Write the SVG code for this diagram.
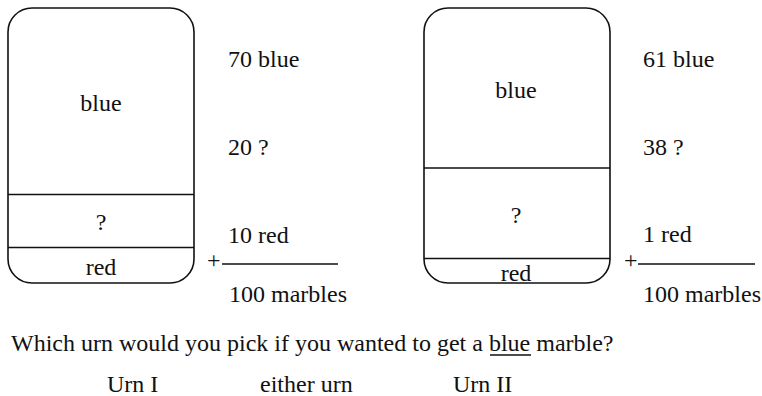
<svg xmlns="http://www.w3.org/2000/svg" width="762" height="396" viewBox="0 0 762 396">
<style>
text{font-family:"Liberation Serif","Times New Roman","DejaVu Serif",serif;font-size:24px;fill:#111}
.m{text-anchor:middle}
.s{fill:none;stroke:#111;stroke-width:1.6}
</style>
<rect width="762" height="396" fill="#fff"/>
<g id="urn1" font-family="Liberation Serif, serif">
<rect class="s" x="8" y="8" width="186" height="275" rx="24"/>
<line class="s" x1="8" y1="194.5" x2="194" y2="194.5"/>
<line class="s" x1="8" y1="247.5" x2="194" y2="247.5"/>
<text class="m" x="101" y="111">blue</text>
<text class="m" x="101" y="230">?</text>
<text class="m" x="101" y="275">red</text>
</g>
<g id="urn1-counts" font-family="Liberation Serif, serif">
<text x="228" y="67">70 blue</text>
<text x="228" y="155">20 ?</text>
<text x="228" y="243">10 red</text>
<text x="207" y="268">+</text>
<line class="s" x1="222" y1="264" x2="338" y2="264"/>
<text x="229" y="302">100 marbles</text>
</g>
<g id="urn2" font-family="Liberation Serif, serif">
<rect class="s" x="424" y="8" width="186" height="275" rx="24"/>
<line class="s" x1="424" y1="168" x2="610" y2="168"/>
<line class="s" x1="424" y1="258.5" x2="610" y2="258.5"/>
<text class="m" x="516" y="98">blue</text>
<text class="m" x="516" y="223">?</text>
<text class="m" x="516" y="281">red</text>
</g>
<g id="urn2-counts" font-family="Liberation Serif, serif">
<text x="643" y="67">61 blue</text>
<text x="643" y="155">38 ?</text>
<text x="643" y="242">1 red</text>
<text x="624" y="268">+</text>
<line class="s" x1="638" y1="264" x2="755" y2="264"/>
<text x="643" y="302">100 marbles</text>
</g>
<g id="question" font-family="Liberation Serif, serif">
<text x="11" y="351">Which urn would you pick if you wanted to get a blue marble?</text>
<line x1="490" y1="355" x2="531" y2="355" stroke="#111" stroke-width="1.3"/>
<text x="107" y="392">Urn I</text>
<text x="260" y="392">either urn</text>
<text x="453" y="392">Urn II</text>
</g>
</svg>
